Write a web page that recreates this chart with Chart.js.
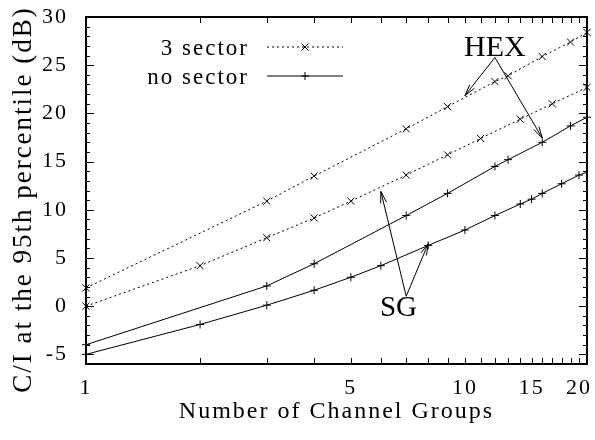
<!DOCTYPE html>
<html>
<head>
<meta charset="utf-8">
<script src="https://cdn.jsdelivr.net/npm/chart.js@4"></script>
<style>
  html, body { margin: 0; padding: 0; background: #fff; }
  #wrap { width: 595px; height: 440px; }
</style>
</head>
<body>
<div id="wrap"><canvas id="c" width="595" height="440"></canvas></div>
<script>
// Channel-group counts used by each layout
const hexGroups      = [1, 3, 4, 7, 9, 12, 13, 16, 19, 21];
const sgSectorGroups = [1, 2, 3, 4, 5, 7, 9, 11, 14, 17, 21];
const sgGroups       = [1, 2, 3, 4, 5, 6, 8, 10, 12, 14, 15, 16, 18, 20, 21];

// C/I at the 95th percentile (dB)
const hexSector   = [1.9, 10.9, 13.5, 18.4, 20.7, 23.3, 23.9, 25.9, 27.4, 28.4];
const sgSector    = [0.0, 4.2, 7.1, 9.15, 10.9, 13.6, 15.7, 17.4, 19.4, 21.0, 22.7];
const hexNoSector = [-4.0, 2.1, 4.4, 9.4, 11.7, 14.5, 15.2, 17.0, 18.7, 19.6];
const sgNoSector  = [-5.0, -1.9, 0.1, 1.65, 3.0, 4.2, 6.3, 7.9, 9.4, 10.6, 11.1, 11.7, 12.7, 13.6, 13.9];

const xLabelled = [1, 5, 10, 15, 20];
const legendLabels = ['3 sector', 'no sector'];
const xTitle = 'Number of Channel Groups';
const yTitle = 'C/I at the 95th percentile (dB)';

// Callout labels, anchored in data coordinates
const callouts = [
  { text: 'HEX', x: 12, y: 26.0, tail: [12, 25.8], heads: [[10, 21.85], [16, 17.44]] },
  { text: 'SG',  x: 6.68, y: -1.07, tail: [7, 1.03], heads: [[6, 11.9], [8, 6.5]] }
];

const SERIF = '"Liberation Serif", "Times New Roman", serif';
Chart.defaults.font.family = SERIF;
Chart.defaults.color = '#000';

const pts = (xs, ys) => xs.map((x, i) => ({ x, y: ys[i] }));

function series(xs, ys, dotted, extra) {
  return Object.assign({
    data: pts(xs, ys),
    showLine: true,
    borderColor: '#000',
    backgroundColor: '#000',
    borderWidth: 1,
    borderDash: dotted ? [2, 3] : [],
    pointStyle: dotted ? 'crossRot' : 'cross',
    pointRadius: dotted ? 5 : 4,
    pointBorderWidth: 1,
    pointBorderColor: '#000',
    clip: false
  }, extra || {});
}

function drawMarker(ctx, style, x, y) {
  ctx.beginPath();
  if (style === 'crossRot') {
    const d = 3.5;
    ctx.moveTo(x - d, y - d); ctx.lineTo(x + d, y + d);
    ctx.moveTo(x - d, y + d); ctx.lineTo(x + d, y - d);
  } else {
    const d = 4;
    ctx.moveTo(x - d, y); ctx.lineTo(x + d, y);
    ctx.moveTo(x, y - d); ctx.lineTo(x, y + d);
  }
  ctx.stroke();
}

// letter spacing for axis and legend text
const spacing = {
  id: 'spacing',
  beforeDraw(chart) { chart.ctx.letterSpacing = '2px'; },
  afterDraw(chart) { chart.ctx.letterSpacing = '0px'; }
};

// Inside tick marks on all four sides, the plot border and the y-axis title
const frame = {
  id: 'frame',
  afterDatasetsDraw(chart) {
    const { ctx, chartArea: a, scales: { x, y } } = chart;
    ctx.save();
    ctx.strokeStyle = '#000';
    ctx.lineWidth = 1;
    ctx.setLineDash([]);
    ctx.beginPath();
    x.ticks.forEach(t => {
      const px = Math.round(x.getPixelForValue(t.value)) + 0.5;
      if (px <= a.left + 1 || px >= a.right - 1) return;
      ctx.moveTo(px, a.bottom); ctx.lineTo(px, a.bottom - 6);
      ctx.moveTo(px, a.top); ctx.lineTo(px, a.top + 6);
    });
    y.ticks.forEach(t => {
      const py = Math.round(y.getPixelForValue(t.value)) + 0.5;
      if (py <= a.top + 1 || py >= a.bottom - 1) return;
      const len = t.value % 5 === 0 ? 8 : 4;
      ctx.moveTo(a.left, py); ctx.lineTo(a.left + len, py);
      ctx.moveTo(a.right, py); ctx.lineTo(a.right - len, py);
    });
    ctx.stroke();
    ctx.lineWidth = 2;
    ctx.strokeRect(a.left, a.top, a.right - a.left, a.bottom - a.top);

    // y-axis title, centred a little below the middle of the plot
    ctx.translate(24, (a.top + a.bottom) / 2 + 9);
    ctx.rotate(-Math.PI / 2);
    ctx.font = '27px ' + SERIF;
    ctx.letterSpacing = '2px';
    ctx.fillStyle = '#000';
    ctx.textAlign = 'center';
    ctx.textBaseline = 'middle';
    ctx.fillText(yTitle, 0, 0);
    ctx.restore();
  }
};

// Key in the upper left of the plot
const key = {
  id: 'key',
  afterDatasetsDraw(chart) {
    const { ctx, chartArea: a } = chart;
    const rows = [
      { label: legendLabels[0], dash: [2, 3], style: 'crossRot', base: a.top + 38, lineY: a.top + 30 },
      { label: legendLabels[1], dash: [], style: 'cross', base: a.top + 67, lineY: a.top + 59 }
    ];
    ctx.save();
    ctx.fillStyle = '#000';
    ctx.strokeStyle = '#000';
    ctx.lineWidth = 1;
    ctx.font = '23px ' + SERIF;
    ctx.textAlign = 'right';
    ctx.textBaseline = 'alphabetic';
    ctx.letterSpacing = '2px';
    rows.forEach(r => {
      ctx.fillText(r.label, a.left + 163, r.base);
      ctx.setLineDash(r.dash);
      ctx.beginPath();
      ctx.moveTo(a.left + 181, r.lineY); ctx.lineTo(a.left + 257, r.lineY);
      ctx.stroke();
      ctx.setLineDash([]);
      drawMarker(ctx, r.style, a.left + 219, r.lineY);
    });
    ctx.restore();
  }
};

// HEX / SG callouts with arrows
const notes = {
  id: 'notes',
  afterDatasetsDraw(chart) {
    const { ctx, scales: { x, y } } = chart;
    ctx.save();
    ctx.letterSpacing = '0px';
    ctx.fillStyle = '#000';
    ctx.strokeStyle = '#000';
    ctx.lineWidth = 1;
    ctx.setLineDash([]);
    ctx.textAlign = 'center';
    ctx.textBaseline = 'alphabetic';
    callouts.forEach(c => {
      ctx.font = (c.text === 'HEX' ? 30 : 29) + 'px ' + SERIF;
      ctx.fillText(c.text, x.getPixelForValue(c.x), y.getPixelForValue(c.y));
      const x0 = x.getPixelForValue(c.tail[0]), y0 = y.getPixelForValue(c.tail[1]);
      c.heads.forEach(h => {
        const x1 = x.getPixelForValue(h[0]), y1 = y.getPixelForValue(h[1]);
        const ang = Math.atan2(y1 - y0, x1 - x0), L = 12, w = 0.25;
        ctx.beginPath();
        ctx.moveTo(x0, y0); ctx.lineTo(x1, y1);
        ctx.moveTo(x1 - L * Math.cos(ang - w), y1 - L * Math.sin(ang - w));
        ctx.lineTo(x1, y1);
        ctx.lineTo(x1 - L * Math.cos(ang + w), y1 - L * Math.sin(ang + w));
        ctx.stroke();
      });
    });
    ctx.restore();
  }
};

new Chart(document.getElementById('c'), {
  type: 'scatter',
  data: {
    datasets: [
      series(hexGroups, hexSector, true),
      series(sgSectorGroups, sgSector, true),
      series(hexGroups, hexNoSector, false),
      series(sgGroups, sgNoSector, false, {
        pointRadius: sgGroups.map(g => (g > 20 ? 0 : 4))
      })
    ]
  },
  options: {
    responsive: false,
    animation: false,
    events: [],
    layout: { padding: { top: 17, right: 8, left: 0, bottom: 0 } },
    plugins: { legend: { display: false }, tooltip: { enabled: false } },
    scales: {
      x: {
        type: 'logarithmic',
        min: 1,
        max: 21,
        grid: { display: false, drawTicks: false },
        border: { display: false },
        afterBuildTicks: s => {
          const t = [];
          for (let v = 1; v <= 20; v++) t.push({ value: v });
          s.ticks = t;
        },
        afterFit: s => { s.height = 76; s.paddingLeft = 0; s.paddingRight = 0; },
        ticks: {
          autoSkip: false,
          maxRotation: 0,
          padding: 11,
          font: { size: 22 },
          callback: v => (xLabelled.includes(v) ? String(v) : '')
        },
        title: {
          display: true,
          text: xTitle,
          font: { size: 24 },
          padding: { top: 0, bottom: 14 }
        }
      },
      y: {
        min: -6,
        max: 30,
        grid: { display: false, drawTicks: false },
        border: { display: false },
        afterFit: s => { s.width = 86; s.paddingTop = 0; s.paddingBottom = 0; },
        ticks: {
          stepSize: 1,
          autoSkip: false,
          padding: 18,
          font: { size: 22 },
          callback: v => (v % 5 === 0 ? String(v) : '')
        },
        title: { display: false }
      }
    }
  },
  plugins: [spacing, frame, key, notes]
});
</script>
</body>
</html>
